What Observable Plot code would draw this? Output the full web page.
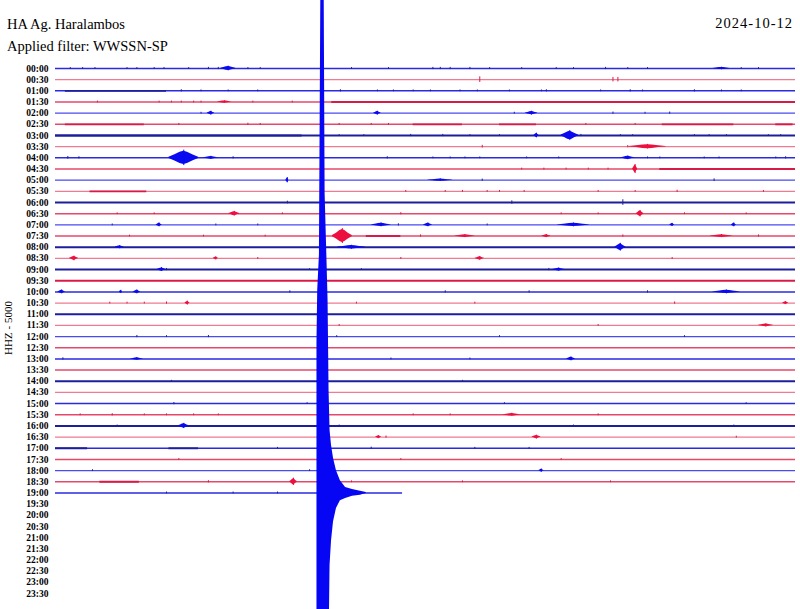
<!DOCTYPE html>
<html><head><meta charset="utf-8">
<script src="https://cdn.jsdelivr.net/npm/d3@7"></script>
<script src="https://cdn.jsdelivr.net/npm/@observablehq/plot@0.6"></script>
<style>
body{margin:0;background:#fff;}
#wrap{position:relative;width:800px;height:609px;overflow:hidden;background:#fff;}
.t{position:absolute;font-family:"Liberation Serif",serif;font-size:14.5px;line-height:14.5px;color:#000;white-space:nowrap;}
#ylab{position:absolute;left:8px;top:328px;font-family:"Liberation Serif",serif;font-size:11px;line-height:11px;white-space:nowrap;transform:translate(-50%,-50%) rotate(-90deg);}
</style></head><body>
<div id="wrap">
<div id="chart"></div>
<div class="t" style="left:7px;top:17px">HA Ag. Haralambos</div>
<div class="t" style="left:7px;top:39px">Applied filter: WWSSN-SP</div>
<div class="t" style="right:7px;top:16px;letter-spacing:1px">2024-10-12</div>
<div id="ylab">HHZ - 5000</div>
</div>
<script>
// Row labels (30 minutes per line)
const timeLabels = ["00:00","00:30","01:00","01:30","02:00","02:30","03:00","03:30","04:00","04:30",
"05:00","05:30","06:00","06:30","07:00","07:30","08:00","08:30","09:00","09:30",
"10:00","10:30","11:00","11:30","12:00","12:30","13:00","13:30","14:00","14:30",
"15:00","15:30","16:00","16:30","17:00","17:30","18:00","18:30","19:00","19:30",
"20:00","20:30","21:00","21:30","22:00","22:30","23:00","23:30"];
// noise level of each recorded line (0 quiet, 1 medium, 2 heavy)
const rowLevel = [1,0,1,1,0,1,2,0,1,1, 0,0,2,1,0,1,2,0,2,2, 1,0,2,0,0,1,1,1,2,0, 1,1,2,0,1,1,0,1,1];
// minute at which the last line ends
const lastMinute = 14.07;
// noisy segments: [row, startMin, endMin]
const noisy = [[2,0.4,4.5],[3,11.2,30],[5,0.4,3.6],[5,14.5,16.5],[5,18,19.5],[5,24.6,27.5],[5,29.2,29.9],
[6,0,10],[11,1.4,3.7],[15,12.6,14.0],[34,0,1.3],[34,4.6,5.8],[37,1.8,3.4],[9,24.5,30]];
// bursts: [row, centreMin, halfWidthMin, amplitude(rows)]
const bursts = [[0,7.0,0.3,0.18],[0,27.0,0.35,0.1],[3,6.85,0.3,0.1],[4,6.3,0.15,0.15],[4,13.05,0.15,0.15],
[4,19.3,0.25,0.15],[6,20.85,0.35,0.38],[6,19.5,0.1,0.18],[7,24.0,0.75,0.18],[8,5.2,0.6,0.6],[8,6.3,0.3,0.12],
[8,23.2,0.3,0.14],[9,23.5,0.1,0.35],[10,9.4,0.06,0.2],[10,15.6,0.5,0.1],[13,7.25,0.22,0.18],[13,23.7,0.15,0.25],
[14,4.2,0.12,0.15],[14,13.2,0.4,0.15],[14,15.1,0.18,0.15],[14,21.0,0.65,0.15],[14,25.0,0.1,0.12],[14,27.5,0.1,0.15],
[15,11.63,0.4,0.58],[15,16.6,0.4,0.12],[15,19.9,0.18,0.12],[15,27.0,0.45,0.12],[16,2.6,0.18,0.12],[16,12.0,0.55,0.15],
[16,22.9,0.22,0.3],[17,0.75,0.18,0.18],[17,6.5,0.1,0.12],[17,17.2,0.18,0.15],[18,4.3,0.18,0.15],[18,20.4,0.25,0.12],
[20,0.25,0.15,0.15],[20,2.65,0.06,0.12],[20,3.3,0.15,0.15],[20,27.2,0.55,0.15],[21,5.35,0.1,0.15],[21,29.6,0.12,0.12],
[23,28.8,0.3,0.12],[26,3.3,0.25,0.1],[26,20.9,0.18,0.15],[31,18.5,0.35,0.12],[32,5.2,0.22,0.2],[33,13.1,0.12,0.12],
[33,19.5,0.18,0.15],[36,19.7,0.1,0.12],[37,9.65,0.15,0.28]];
// small spikes: [row, minute, amplitude(rows)]
const spikes = [
[0,0.6,0.08],[0,1.1,0.08],[0,1.6,0.08],[0,2.9,0.08],[0,3.3,0.08],[0,4.0,0.08],[0,4.4,0.08],[0,5.4,0.08],[0,6.2,0.1],[0,6.6,0.1],[0,7.8,0.08],[0,8.3,0.08],[0,12.0,0.08],[0,13.5,0.08],[0,15.3,0.1],[0,15.6,0.1],[0,16.0,0.1],[0,16.8,0.1],[0,17.6,0.08],[0,18.9,0.08],[0,20.3,0.08],[0,21.0,0.08],[0,22.3,0.1],[0,23.2,0.08],[0,24.0,0.08],[0,27.8,0.08],[0,28.5,0.08],
[1,17.2,0.25],[1,22.6,0.2],[1,22.8,0.2],
[2,5.1,0.1],[2,5.9,0.08],[2,7.0,0.08],[2,8.2,0.08],[2,11.55,0.1],[2,13.05,0.08],[2,13.7,0.08],[2,14.5,0.08],[2,15.2,0.08],[2,16.4,0.08],[2,17.1,0.08],[2,18.4,0.08],[2,19.7,0.08],[2,19.9,0.1],[2,22.1,0.08],[2,23.3,0.1],[2,23.8,0.08],[2,25.9,0.1],[2,27.0,0.08],[2,27.8,0.08],
[3,1.7,0.08],[3,4.2,0.08],[3,4.7,0.08],[3,5.1,0.08],[3,5.6,0.08],[3,5.9,0.08],[3,8.0,0.08],[3,9.6,0.08],
[4,5.9,0.08],[4,18.6,0.08],[4,22.6,0.1],[4,23.9,0.08],[4,24.9,0.1],
[5,5.0,0.08],[5,7.8,0.1],[5,8.3,0.08],[5,11.5,0.08],[5,12.8,0.08],[5,13.5,0.08],[5,21.5,0.08],[5,23.5,0.08],
[6,11.5,0.08],[6,12.5,0.08],[6,14.4,0.1],[6,15.7,0.1],[6,16.8,0.08],[6,18.0,0.08],[6,21.3,0.1],[6,22.9,0.08],[6,23.4,0.08],[6,25.9,0.08],[6,26.5,0.08],[6,27.2,0.08],[6,28.9,0.08],[6,29.4,0.08],
[7,17.3,0.12],[7,23.2,0.1],
[8,0.5,0.12],[8,0.95,0.1],[8,7.2,0.1],[8,13.45,0.1],[8,15.3,0.08],[8,16.0,0.08],[8,16.6,0.08],[8,17.2,0.08],[8,19.1,0.08],[8,20.4,0.08],[8,24.0,0.08],[8,24.5,0.08],[8,26.3,0.08],[8,26.9,0.08],[8,29.2,0.08],[8,29.6,0.1],
[9,18.9,0.08],[9,19.8,0.08],[9,20.7,0.08],[9,21.6,0.08],[9,22.4,0.08],
[10,17.3,0.1],[10,26.7,0.12],
[11,14.2,0.08],[11,15.8,0.08],[11,16.5,0.08],[11,17.5,0.08],[11,18.0,0.08],[11,19.0,0.08],[11,22.0,0.08],[11,23.5,0.08],[11,25.2,0.1],[11,28.7,0.08],
[12,18.5,0.15],[12,23.0,0.25],[12,9.4,0.12],
[13,2.5,0.08],[13,4.0,0.08],[13,9.2,0.08],[13,14.0,0.1],[13,20.5,0.08],[13,22.0,0.08],[13,25.5,0.08],[13,28.0,0.08],
[14,2.3,0.08],[14,6.5,0.08],[14,8.2,0.08],[14,13.9,0.1],[14,17.5,0.08],
[15,3.0,0.08],[15,6.0,0.08],[15,8.5,0.08],[15,14.8,0.1],[15,23.0,0.1],[15,28.5,0.1],
[17,8.2,0.08],[17,14.0,0.08],[17,25.0,0.08],
[18,4.5,0.1],[18,10.3,0.08],[18,12.4,0.08],[18,20.0,0.1],
[20,9.5,0.1],[20,15.8,0.1],[20,19.2,0.1],[20,24.0,0.1],
[21,2.2,0.08],[21,2.9,0.08],[21,3.6,0.08],[21,4.5,0.1],[21,12.2,0.08],[21,17.0,0.08],[21,25.1,0.1],
[23,11.5,0.08],[23,22.0,0.08],
[24,3.3,0.1],[24,4.5,0.08],[24,6.2,0.1],[24,11.4,0.08],[24,18.0,0.08],[24,25.5,0.08],
[26,0.3,0.1],[26,13.6,0.08],[26,16.8,0.08],
[28,4.7,0.08],[28,16.5,0.08],
[30,4.8,0.1],[30,10.2,0.08],[30,18.2,0.08],[30,28.0,0.08],
[31,1.0,0.08],[31,2.3,0.1],[31,3.6,0.08],[31,4.5,0.08],[31,5.6,0.08],[31,6.6,0.08],[31,14.5,0.08],[31,16.0,0.08],[31,22.0,0.08],
[32,2.5,0.08],[32,11.5,0.08],[32,21.0,0.08],[32,27.5,0.08],
[33,13.4,0.1],[33,27.6,0.08],
[34,9.0,0.08],[34,12.8,0.1],[34,17.0,0.08],[34,19.2,0.08],
[35,5.0,0.08],[35,14.0,0.08],[35,20.5,0.08],
[36,1.5,0.08],[36,10.3,0.08],
[37,6.2,0.1],[37,12.0,0.08],[37,16.5,0.08],[37,22.5,0.08],
[38,9.0,0.08],[38,4.5,0.08],[38,7.2,0.08]];
// earthquake envelope on the 19:00 line: minute, top and bottom extent (row units)
const quakeMin = [10.60,10.63,10.70,10.76,10.89,10.93,11.00,11.05,11.09,11.13,11.19,11.27,11.39,11.55,11.76,12.04,12.36,12.60];
const quakeTop = [24.6,19.9,16.7,-8,-8,11.2,16.7,20.8,28.8,32.4,33.75,34.9,36.0,36.9,37.5,37.7,37.85,37.95];
const quakeBot = [52,52,52,52,52,52,52,52,52,44.5,42.3,40.6,39.4,38.7,38.5,38.3,38.2,38.05];

const blues = ["#4a4af2","#2a2ae2","#1e1e9c"];
const reds  = ["#ef7a92","#e6486a","#d81a48"];
const widths = [1.2,1.5,2.1];
const col = (r, lv) => (r % 2 === 0 ? blues : reds)[lv];
const burstCol = r => r % 2 === 0 ? "#0a0af0" : "#ec1040";

const rows = rowLevel.map((lv, i) => ({i, lv, end: i === rowLevel.length - 1 ? lastMinute : 30}));
const quake = quakeMin.map((m, k) => ({m, top: quakeTop[k], bot: quakeBot[k]}));
// spindle outline of each burst: sampled across its width
const along = [-1, -0.6, -0.25, 0, 0.25, 0.6, 1];
const taper = [0.1, 0.45, 0.85, 1, 0.85, 0.45, 0.1];
const burstPts = bursts.flatMap((b, j) => along.map((a, k) => ({id: j, row: b[0], m: b[1] + a * b[2], lo: b[0] - b[3] * taper[k], hi: b[0] + b[3] * taper[k]})));

const chart = Plot.plot({
  width: 800, height: 609,
  marginLeft: 55, marginRight: 5, marginTop: 68, marginBottom: 16,
  style: {fontFamily: "Liberation Serif, serif", fontSize: "9.5px", fontWeight: "bold", color: "#000", background: "transparent"},
  x: {domain: [0, 30], range: [55, 795], axis: null},
  y: {domain: [0, 47], range: [68, 593], axis: null},
  marks: [
    Plot.axisY({ticks: d3.range(timeLabels.length), tickFormat: i => timeLabels[i], tickSize: 0, tickPadding: 7, fill: "#000"}),
    Plot.ruleY(rows, {y: "i", x1: 0, x2: "end", stroke: d => col(d.i, d.lv), strokeWidth: d => widths[d.lv]}),
    Plot.ruleY(noisy, {y: d => d[0], x1: d => d[1], x2: d => d[2], stroke: d => col(d[0], 2), strokeWidth: 1.9}),
    Plot.ruleX(spikes, {x: d => d[1], y1: d => d[0] - d[2], y2: d => d[0] + d[2], stroke: d => col(d[0], 2), strokeWidth: 1}),
    Plot.areaY(burstPts, {x: "m", y1: "lo", y2: "hi", z: "id", fill: d => burstCol(d.row), curve: "linear"}),
    Plot.ruleX(bursts, {x: d => d[1], y1: d => d[0] - d[3] * 1.15, y2: d => d[0] + d[3] * 1.15, stroke: d => burstCol(d[0]), strokeWidth: 1}),
    Plot.areaY(quake, {x: "m", y1: "top", y2: "bot", fill: "#0606f4"})
  ]
});
document.getElementById("chart").appendChild(chart);
</script>
</body></html>
